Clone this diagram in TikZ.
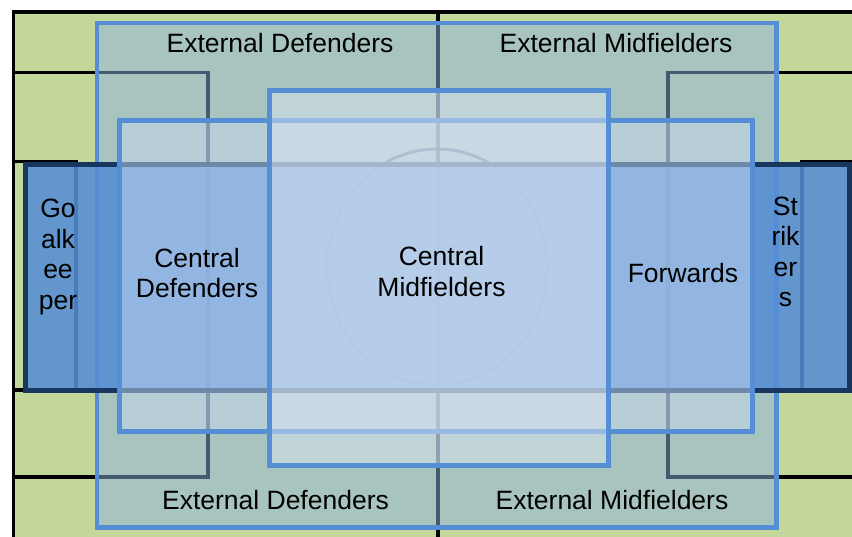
\documentclass[tikz,border=0pt]{standalone}
\usepackage{fontspec}
\setmainfont{Liberation Sans}
\definecolor{pitch}{HTML}{C4D79B}
\definecolor{boxblue}{HTML}{558ED5}
\definecolor{extfill}{HTML}{8DB3E2}
\definecolor{deffill}{HTML}{C6D9F1}
\definecolor{midfill}{HTML}{DBE5F1}
\definecolor{banddark}{HTML}{17375E}
\begin{document}
\begin{tikzpicture}[x=1pt,y=-1pt,
  pitchline/.style={line width=3.5pt, draw=black},
  zone/.style={line width=4.5pt, draw=boxblue},
  lbl/.style={font=\fontsize{26.5}{30.5}\selectfont, text=black, inner sep=0pt}]
\useasboundingbox (0,0) rectangle (852,537);
\clip (0,0) rectangle (852,537);
\fill[white] (0,0) rectangle (852,537);
% pitch
\fill[pitch] (13.5,12) rectangle (862.5,540);
\draw[pitchline] (13.5,12) rectangle (862.5,540);
\draw[pitchline] (438,12) -- (438,540);
\draw[pitchline] (13.5,72.5) -| (208,477) -- (13.5,477);
\draw[pitchline] (862.5,72.5) -| (668,477) -- (862.5,477);
\draw[pitchline] (13.5,161.5) -| (76,390) -- (13.5,390);
\draw[pitchline] (862.5,161.5) -| (802,390) -- (862.5,390);
\draw[line width=3pt] (437,267) ellipse [x radius=110, y radius=118];
% external zone
\filldraw[zone, fill=extfill, fill opacity=0.5] (97,23) rectangle (776.5,527.5);
% goalkeeper / strikers band
\filldraw[line width=4.5pt, draw=banddark, fill=boxblue, fill opacity=0.88] (25.5,164.5) rectangle (849.5,390.5);
% central defenders / forwards zone
\filldraw[zone, fill=deffill, fill opacity=0.5] (119.5,120.5) rectangle (752.5,431.5);
% central midfielders zone
\filldraw[zone, fill=midfill, fill opacity=0.5] (269.5,90.5) rectangle (608.5,465.5);
% labels
\node[lbl, anchor=base] (extdeftop) at (280,53) {External Defenders};
\node[lbl, anchor=base] (extmidtop) at (616,53) {External Midfielders};
\node[lbl, anchor=base] (extdefbot) at (275.5,509) {External Defenders};
\node[lbl, anchor=base] (extmidbot) at (612,509) {External Midfielders};
\node[lbl, align=center] (cdef) at (197,273) {Central\\Defenders};
\node[lbl, align=center] (cmid) at (441.5,271.5) {Central\\Midfielders};
\node[lbl, anchor=base] (fwd) at (683,283) {Forwards};
\node[lbl, align=center] (gk) at (58,257) {Go\\alk\\ee\\per};
\node[lbl, align=center] (str) at (785.5,252) {St\\rik\\er\\s};
\end{tikzpicture}
\end{document}
